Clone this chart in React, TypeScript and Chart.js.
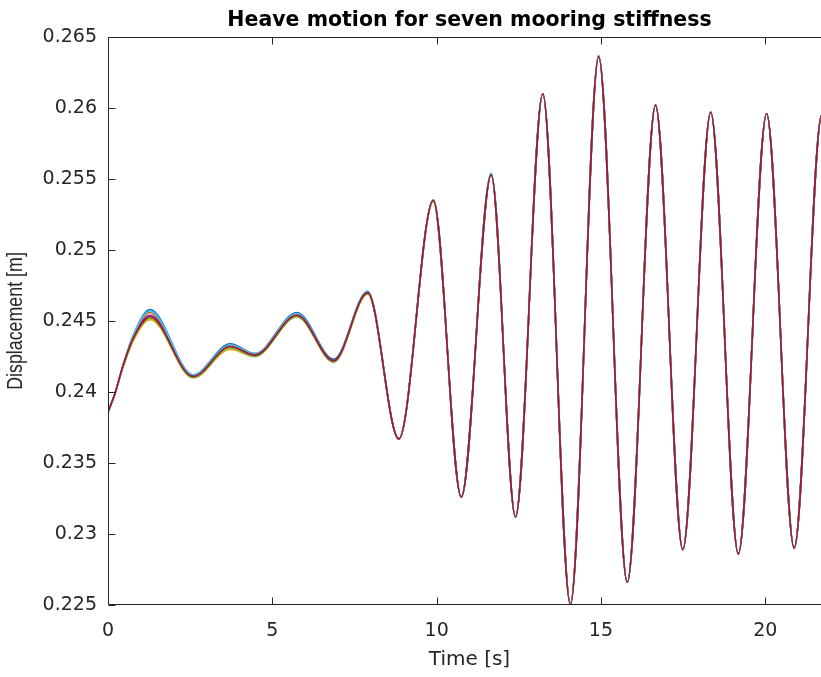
import React, { useEffect, useRef } from 'react';
import { Chart, registerables } from 'chart.js';

Chart.register(...registerables);

// ---- data ----
const chartTitle = 'Heave motion for seven mooring stiffness';
const xAxisTitle = 'Time [s]';
const yAxisTitle = 'Displacement [m]';

const timeS = [
  0, 0.2, 0.45, 0.77, 1.28, 2.59, 3.72, 4.47, 5.75, 6.87, 7.9, 8.85, 9.9, 10.75, 11.66, 12.4,
  13.23, 14.07, 14.93, 15.8, 16.66, 17.49, 18.34, 19.18, 20.04, 20.88, 21.72, 22.0,
];

const stiffness1 = [
  0.2386, 0.2398, 0.2418, 0.2440, 0.2458, 0.2412, 0.2434, 0.2427, 0.2456, 0.2423, 0.2471, 0.2367, 0.2535, 0.2326, 0.2554, 0.2312,
  0.2610, 0.2251, 0.2637, 0.2266, 0.2602, 0.2289, 0.2597, 0.2286, 0.2596, 0.2290, 0.2595, 0.2535,
];
const stiffness2 = [
  0.2386, 0.2398, 0.2418, 0.2439, 0.2456, 0.2411, 0.2433, 0.2427, 0.2455, 0.2422, 0.2470, 0.2367, 0.2535, 0.2326, 0.2553, 0.2312,
  0.2610, 0.2251, 0.2636, 0.2266, 0.2602, 0.2289, 0.2597, 0.2286, 0.2596, 0.2290, 0.2595, 0.2535,
];
const stiffness3 = [
  0.2386, 0.2398, 0.2417, 0.2436, 0.2451, 0.2410, 0.2430, 0.2425, 0.2453, 0.2421, 0.2469, 0.2367, 0.2534, 0.2326, 0.2553, 0.2312,
  0.2610, 0.2251, 0.2636, 0.2266, 0.2602, 0.2289, 0.2597, 0.2286, 0.2596, 0.2290, 0.2595, 0.2535,
];
const stiffness4 = [
  0.2386, 0.2398, 0.2418, 0.2438, 0.2454, 0.2411, 0.2432, 0.2426, 0.2454, 0.2422, 0.2470, 0.2367, 0.2535, 0.2326, 0.2553, 0.2312,
  0.2610, 0.2251, 0.2636, 0.2266, 0.2602, 0.2289, 0.2597, 0.2286, 0.2596, 0.2290, 0.2595, 0.2535,
];
const stiffness5 = [
  0.2386, 0.2398, 0.2417, 0.2437, 0.2452, 0.2410, 0.2431, 0.2425, 0.2453, 0.2421, 0.2469, 0.2367, 0.2534, 0.2326, 0.2553, 0.2312,
  0.2610, 0.2251, 0.2636, 0.2266, 0.2602, 0.2289, 0.2597, 0.2286, 0.2596, 0.2290, 0.2595, 0.2535,
];
const stiffness6 = [
  0.2386, 0.2398, 0.2418, 0.2440, 0.2457, 0.2412, 0.2433, 0.2427, 0.2455, 0.2422, 0.2471, 0.2367, 0.2535, 0.2326, 0.2554, 0.2312,
  0.2610, 0.2251, 0.2637, 0.2266, 0.2602, 0.2289, 0.2597, 0.2286, 0.2596, 0.2290, 0.2595, 0.2535,
];
const stiffness7 = [
  0.2386, 0.2398, 0.2418, 0.2438, 0.2453, 0.2411, 0.2432, 0.2426, 0.2454, 0.2422, 0.2470, 0.2367, 0.2535, 0.2326, 0.2553, 0.2312,
  0.2610, 0.2250, 0.2636, 0.2266, 0.2602, 0.2289, 0.2597, 0.2286, 0.2596, 0.2290, 0.2595, 0.2535,
];

const seriesValues = [stiffness1, stiffness2, stiffness3, stiffness4, stiffness5, stiffness6, stiffness7];
const seriesNames = ['k1', 'k2', 'k3', 'k4', 'k5', 'k6', 'k7'];
const seriesColors = ['#0072BD', '#D95319', '#EDB120', '#7E2F8E', '#77AC30', '#4DBEEE', '#A2142F'];

const xTickValues = [0, 5, 10, 15, 20];
const xTickLabels = ['0', '5', '10', '15', '20'];
const yTickValues = [0.225, 0.23, 0.235, 0.24, 0.245, 0.25, 0.255, 0.26, 0.265];
const yTickLabels = ['0.225', '0.23', '0.235', '0.24', '0.245', '0.25', '0.255', '0.26', '0.265'];

const WIDE_FONT = '"DejaVu Sans", "Liberation Sans", Arial, sans-serif';
const PLAIN_FONT = '"Liberation Sans", Arial, Helvetica, sans-serif';
const AXIS_COLOR = '#262626';

const boxPlugin = {
  id: 'matlabBox',
  afterDatasetsDraw(chart: any) {
    const { ctx, chartArea } = chart;
    const { left, right, top, bottom } = chartArea;
    const xs = chart.scales.x;
    const ys = chart.scales.y;
    const L = Math.round(left) + 0.5;
    const R = Math.round(right) + 0.5;
    const T = Math.round(top) + 0.5;
    const B = Math.round(bottom) - 0.5;
    const tl = 7;
    ctx.save();
    ctx.strokeStyle = AXIS_COLOR;
    ctx.lineWidth = 1;
    ctx.beginPath();
    ctx.moveTo(L, B);
    ctx.lineTo(L, T);
    ctx.lineTo(R, T);
    ctx.lineTo(R, B);
    ctx.lineTo(L, B);
    xTickValues.forEach((v) => {
      const px = Math.round(xs.getPixelForValue(v)) + 0.5;
      ctx.moveTo(px, B);
      ctx.lineTo(px, B - tl);
      ctx.moveTo(px, T);
      ctx.lineTo(px, T + tl);
    });
    yTickValues.forEach((v) => {
      const py = Math.round(ys.getPixelForValue(v)) + 0.5;
      ctx.moveTo(L, py);
      ctx.lineTo(L + tl, py);
      ctx.moveTo(R, py);
      ctx.lineTo(R - tl, py);
    });
    ctx.stroke();
    ctx.restore();
  },
};

// Condensed, rotated y-axis title (the reference uses a tall narrow face).
const yTitlePlugin = {
  id: 'condensedYTitle',
  afterDraw(chart: any) {
    const { ctx, chartArea } = chart;
    const cy = (chartArea.top + chartArea.bottom) / 2;
    ctx.save();
    ctx.translate(22, cy);
    ctx.rotate(-Math.PI / 2);
    ctx.scale(0.81, 1);
    ctx.font = `22px ${PLAIN_FONT}`;
    ctx.fillStyle = AXIS_COLOR;
    ctx.textAlign = 'center';
    ctx.textBaseline = 'alphabetic';
    ctx.fillText(yAxisTitle, 0, 0);
    ctx.restore();
  },
};

export default function App() {
  const canvasRef = useRef<HTMLCanvasElement | null>(null);

  useEffect(() => {
    const canvas = canvasRef.current;
    if (!canvas) return;
    const datasets = seriesValues.map((vals, i) => ({
      label: seriesNames[i],
      data: timeS.map((t, j) => ({ x: t, y: vals[j] })),
      borderColor: seriesColors[i],
      backgroundColor: seriesColors[i],
      borderWidth: 1.6,
      pointRadius: 0,
      fill: false,
      cubicInterpolationMode: 'monotone' as const,
      order: seriesValues.length - i,
    }));

    const chart = new Chart(canvas, {
      type: 'line',
      data: { datasets },
      plugins: [boxPlugin, yTitlePlugin],
      options: {
        responsive: false,
        animation: false,
        devicePixelRatio: 1,
        layout: { padding: { left: 0, right: 14, top: 0, bottom: 0 } },
        plugins: {
          legend: { display: false },
          tooltip: { enabled: false },
          title: {
            display: true,
            fullSize: false,
            text: chartTitle,
            color: '#000000',
            font: { family: WIDE_FONT, size: 20.5, weight: 'bold', lineHeight: 1.2 },
            padding: { top: 8, bottom: 4.4 },
          },
        },
        scales: {
          x: {
            type: 'linear',
            min: 0,
            max: 22,
            grid: { display: false, drawTicks: false },
            border: { display: false },
            afterBuildTicks: (scale: any) => {
              scale.ticks = xTickValues.map((v) => ({ value: v }));
            },
            afterFit: (scale: any) => {
              scale.height = 72;
            },
            ticks: {
              color: AXIS_COLOR,
              font: { family: WIDE_FONT, size: 19 },
              padding: 15,
              maxRotation: 0,
              autoSkip: false,
              callback: (_v: any, idx: number) => xTickLabels[idx],
            },
            title: {
              display: true,
              text: xAxisTitle,
              color: AXIS_COLOR,
              font: { family: WIDE_FONT, size: 20, lineHeight: 1.2 },
              padding: { top: 0, bottom: 5 },
            },
          },
          y: {
            type: 'linear',
            min: 0.225,
            max: 0.265,
            grid: { display: false, drawTicks: false },
            border: { display: false },
            afterBuildTicks: (scale: any) => {
              scale.ticks = yTickValues.map((v) => ({ value: v }));
            },
            afterFit: (scale: any) => {
              scale.width = 108;
            },
            ticks: {
              color: AXIS_COLOR,
              font: { family: WIDE_FONT, size: 19 },
              padding: 11,
              autoSkip: false,
              callback: (_v: any, idx: number) => yTickLabels[idx],
            },
            title: { display: false, text: yAxisTitle },
          },
        },
      },
    } as any);

    return () => {
      chart.destroy();
    };
  }, []);

  return (
    <div
      style={{
        position: 'absolute',
        left: 0,
        top: 0,
        width: 821,
        height: 677,
        overflow: 'hidden',
        background: '#ffffff',
      }}
    >
      <canvas ref={canvasRef} width={845} height={677} style={{ display: 'block' }} />
    </div>
  );
}
